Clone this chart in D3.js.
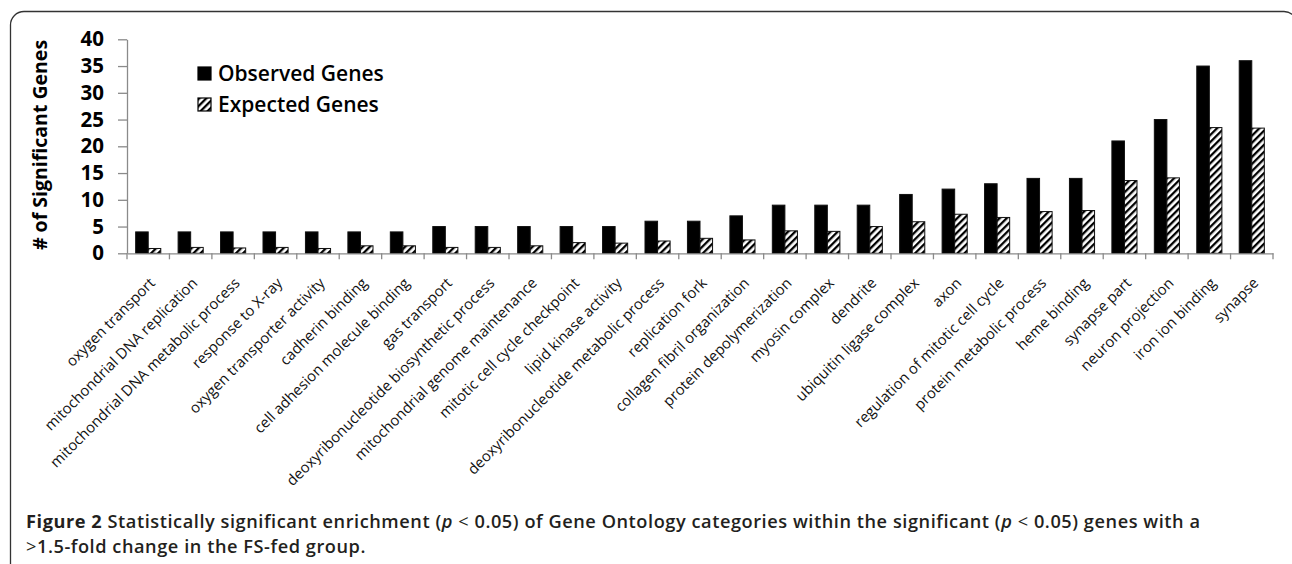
<!DOCTYPE html>
<html>
<head>
<meta charset="utf-8">
<script src="https://cdn.jsdelivr.net/npm/d3@7"></script>
<style>
  html, body { margin: 0; padding: 0; background: #fff; }
  svg { display: block; font-family: "Open Sans", sans-serif; }
</style>
</head>
<body>
<svg id="chart" width="1292" height="564"></svg>
<script>
// ---- Data ----
const categories = [
  "oxygen transport", "mitochondrial DNA replication", "mitochondrial DNA metabolic process",
  "response to X-ray", "oxygen transporter activity", "cadherin binding",
  "cell adhesion molecule binding", "gas transport", "deoxyribonucleotide biosynthetic process",
  "mitochondrial genome maintenance", "mitotic cell cycle checkpoint", "lipid kinase activity",
  "deoxyribonucleotide metabolic process", "replication fork", "collagen fibril organization",
  "protein depolymerization", "myosin complex", "dendrite", "ubiquitin ligase complex", "axon",
  "regulation of mitotic cell cycle", "protein metabolic process", "heme binding",
  "synapse part", "neuron projection", "iron ion binding", "synapse"
];
const observed = [4, 4, 4, 4, 4, 4, 4, 5, 5, 5, 5, 5, 6, 6, 7, 9, 9, 9, 11, 12, 13, 14, 14, 21, 25, 35, 36];
const expected = [0.9, 1.1, 1.0, 1.1, 0.9, 1.4, 1.4, 1.1, 1.1, 1.4, 2.0, 1.9, 2.3, 2.8, 2.5, 4.2, 4.1, 5.0, 5.9, 7.3, 6.7, 7.8, 8.0, 13.6, 14.1, 23.5, 23.4];
const seriesNames = ["Observed Genes", "Expected Genes"];
const yTicks = [0, 5, 10, 15, 20, 25, 30, 35, 40];
const yTitle = "# of Significant Genes";

const rows = categories.map((c, i) => ({ cat: c, values: [observed[i], expected[i]] }));

const svg = d3.select("#chart");

// hatch pattern for expected bars
const defs = svg.append("defs");
const pat = defs.append("pattern")
  .attr("id", "hatch")
  .attr("patternUnits", "userSpaceOnUse")
  .attr("width", 5).attr("height", 5)
  .attr("patternTransform", "rotate(45)");
pat.append("rect").attr("width", 5).attr("height", 5).attr("fill", "#fff");
pat.append("rect").attr("width", 2.3).attr("height", 5).attr("fill", "#000");

const fills = ["#000", "url(#hatch)"];

// ---- Frame (rounded box that runs off the right / bottom edge) ----
svg.append("path")
  .attr("d", "M10.5,570 V25 A13.5,13.5 0 0 1 24,11.5 H1284 A13,13 0 0 1 1297,24.5 V570")
  .attr("fill", "none")
  .attr("stroke", "#333")
  .attr("stroke-width", 1.3);

// ---- Scales ----
const x0 = d3.scaleBand().domain(categories).range([127, 1273]).paddingInner(0).paddingOuter(0);
const x1 = d3.scaleBand().domain([0, 1]).range([0, x0.bandwidth()]).paddingInner(0).paddingOuter(0.69);
const y = d3.scaleLinear().domain([0, 40]).range([253.3, 39.3]);

// ---- Y axis ----
const yAxis = svg.append("g")
  .attr("transform", "translate(127,0)")
  .call(d3.axisLeft(y).tickValues(yTicks).tickSize(9).tickSizeOuter(0).tickPadding(14));
yAxis.select(".domain").attr("stroke", "#8a8a8a").attr("stroke-width", 1.3);
yAxis.selectAll(".tick line").attr("stroke", "#8a8a8a").attr("stroke-width", 1.3);
yAxis.selectAll(".tick text")
  .attr("fill", "#000")
  .attr("font-size", 20.5)
  .attr("font-weight", 700)
  .attr("font-family", "Open Sans");

svg.append("text")
  .attr("transform", "translate(47,145) rotate(-90)")
  .attr("text-anchor", "middle")
  .attr("font-size", 19.5)
  .attr("font-weight", 700)
  .attr("fill", "#000")
  .text(yTitle);

// ---- Bars ----
const groups = svg.append("g").selectAll("g.grp")
  .data(rows)
  .join("g")
  .attr("class", "grp")
  .attr("transform", d => `translate(${x0(d.cat)},0)`);

groups.selectAll("rect")
  .data(d => d.values.map((v, k) => ({ k, v })))
  .join("rect")
  .attr("x", d => x1(d.k))
  .attr("width", x1.bandwidth())
  .attr("y", d => y(d.v))
  .attr("height", d => y(0) - y(d.v))
  .attr("fill", d => fills[d.k])
  .attr("stroke", "#111")
  .attr("stroke-width", 1);

// ---- X axis ----
const xAxis = svg.append("g")
  .attr("transform", `translate(0,${y(0)})`)
  .call(d3.axisBottom(x0).tickSize(0).tickSizeOuter(0));
xAxis.select(".domain").attr("stroke", "#8a8a8a").attr("stroke-width", 1.3);
xAxis.selectAll(".tick text")
  .attr("x", 0).attr("y", 0).attr("dy", "0.35em")
  .attr("transform", "translate(4,27) rotate(-45)")
  .style("text-anchor", "end")
  .attr("fill", "#111")
  .attr("font-size", 14.8)
  .attr("font-family", "Open Sans");

// boundary tick marks between categories
const bounds = categories.map(c => x0(c)).concat([x0.range()[1]]);
xAxis.selectAll("line.sep")
  .data(bounds)
  .join("line")
  .attr("class", "sep")
  .attr("x1", d => d).attr("x2", d => d)
  .attr("y1", 0).attr("y2", 6)
  .attr("stroke", "#8a8a8a")
  .attr("stroke-width", 1.3);

// ---- Legend ----
const legend = svg.append("g").selectAll("g.leg")
  .data(seriesNames)
  .join("g")
  .attr("class", "leg")
  .attr("transform", (d, i) => `translate(198,${67 + i * 31})`);
legend.append("rect")
  .attr("width", 13).attr("height", 13)
  .attr("fill", (d, i) => fills[i])
  .attr("stroke", "#000").attr("stroke-width", 1.2);
legend.append("text")
  .attr("x", 20).attr("y", 13.5)
  .attr("font-size", 21)
  .attr("font-weight", 600)
  .attr("fill", "#000")
  .text(d => d);

// ---- Caption ----
const cap = svg.append("text")
  .attr("x", 26).attr("y", 527.5)
  .attr("fill", "#231f20").attr("font-size", 18.2).attr("font-weight", 600)
  .attr("letter-spacing", 0.55);
cap.append("tspan").attr("font-weight", 700).text("Figure 2");
cap.append("tspan").text(" Statistically significant enrichment (");
cap.append("tspan").attr("font-style", "italic").text("p");
cap.append("tspan").attr("font-weight", 400).text(" < ");
cap.append("tspan").text("0.05) of Gene Ontology categories within the significant (");
cap.append("tspan").attr("font-style", "italic").text("p");
cap.append("tspan").attr("font-weight", 400).text(" < ");
cap.append("tspan").text("0.05) genes with a");
cap.append("tspan").attr("x", 26).attr("dy", 25).attr("font-weight", 400).text(">");
cap.append("tspan").text("1.5-fold change in the FS-fed group.");
</script>
</body>
</html>
